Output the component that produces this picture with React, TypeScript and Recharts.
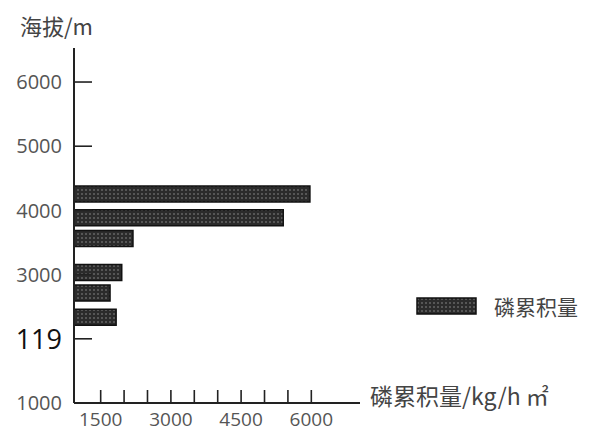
import React from "react";
import { BarChart, Bar, XAxis, YAxis, Legend } from "recharts";

const altitudes = [4250, 3880, 3560, 3030, 2710, 2330];
const phosphorus = [5970, 5400, 2190, 1950, 1700, 1830];
const xTicks = [1500, 2000, 2500, 3000, 3500, 4000, 4500, 5000, 5500, 6000];
const xLabelTicks = [1500, 3000, 4500, 6000];
const yTicks = [1000, 2000, 3000, 4000, 5000, 6000];
const yTickLabels = ["1000", "119", "3000", "4000", "5000", "6000"];
const seriesName = "磷累积量";
const yTitle = "海拔/m";
const xTitle = "磷累积量/kg/h ㎡";

const data = altitudes.map((alt, i) => ({ alt, p: phosphorus[i] }));

const NUM_FONT = '"Open Sans", "Noto Sans CJK SC", sans-serif';
const CJK_FONT = '"Noto Sans CJK SC", "Open Sans", sans-serif';

const XTick = (props: any) => {
  const { x, y, payload } = props;
  const v = payload.value;
  return (
    <g>
      <line x1={x} x2={x} y1={y - 1} y2={y - 13} stroke="#222" strokeWidth={1.6} />
      {xLabelTicks.includes(v) && (
        <text x={x} y={426} textAnchor="middle" fontFamily={NUM_FONT} fontSize={19} fill="#555">
          {String(v)}
        </text>
      )}
    </g>
  );
};

const YTick = (props: any) => {
  const { x, y, payload } = props;
  const idx = yTicks.indexOf(payload.value);
  const label = idx >= 0 ? yTickLabels[idx] : String(payload.value);
  const special = label === "119";
  return (
    <g>
      {payload.value !== yTicks[0] && (
        <line x1={x + 13} x2={x + 30} y1={y} y2={y} stroke="#222" strokeWidth={1.6} />
      )}
      <text
        x={x}
        y={y}
        dy="0.36em"
        textAnchor="end"
        fontFamily={NUM_FONT}
        fontSize={special ? 27 : 20}
        fill={special ? "#111" : "#555"}
      >
        {label}
      </text>
    </g>
  );
};

const LegendContent = (props: any) => {
  const name = props.payload && props.payload[0] ? props.payload[0].value : seriesName;
  return (
    <div style={{ display: "flex", alignItems: "center", height: 19 }}>
      <svg width={62} height={19} style={{ display: "block" }}>
        <defs>
          <pattern id="dotsLegend" width="4" height="4" patternUnits="userSpaceOnUse">
            <rect width="4" height="4" fill="#2b2b2b" />
            <circle cx="2" cy="2" r="0.8" fill="#8c8c8c" />
          </pattern>
        </defs>
        <rect x={1} y={1} width={59} height={16} fill="url(#dotsLegend)" stroke="#111" strokeWidth={1.5} />
      </svg>
      <span style={{ marginLeft: 16, fontFamily: CJK_FONT, fontSize: 21, color: "#444", lineHeight: "19px" }}>
        {name}
      </span>
    </div>
  );
};

export default function App() {
  return (
    <div style={{ width: 590, height: 432, position: "relative", background: "#fff" }}>
      <style>{"body{margin:0;}"}</style>
      <BarChart
        width={590}
        height={432}
        data={data}
        layout="vertical"
        margin={{ top: 48, right: 230, bottom: 0, left: 0 }}
      >
        <defs>
          <pattern id="dots" width="4" height="4" patternUnits="userSpaceOnUse">
            <rect width="4" height="4" fill="#2b2b2b" />
            <circle cx="2" cy="2" r="0.8" fill="#8c8c8c" />
          </pattern>
        </defs>
        <XAxis
          type="number"
          domain={[930, 7040]}
          allowDataOverflow
          ticks={xTicks}
          interval={0}
          height={29}
          tickSize={0}
          tickMargin={0}
          tickLine={false}
          tick={<XTick />}
          axisLine={{ stroke: "#222", strokeWidth: 2 }}
          label={{
            content: (p: any) => {
              const vb = p.viewBox || { x: 74, y: 403, width: 286 };
              return (
                <text x={vb.x + vb.width + 10} y={vb.y + 2} fontFamily={CJK_FONT} fontSize={23} fill="#444">
                  {xTitle}
                </text>
              );
            },
          }}
        />
        <YAxis
          type="number"
          dataKey="alt"
          domain={[1000, 6530]}
          allowDataOverflow
          reversed
          ticks={yTicks}
          interval={0}
          width={74}
          tickSize={0}
          tickMargin={12}
          tickLine={false}
          tick={<YTick />}
          axisLine={{ stroke: "#222", strokeWidth: 2 }}
          label={{
            content: () => (
              <text x={20} y={35} fontFamily={CJK_FONT} fontSize={22} fill="#444">
                {yTitle}
              </text>
            ),
          }}
        />
        <Bar
          dataKey="p"
          name={seriesName}
          barSize={16}
          fill="url(#dots)"
          stroke="#111"
          strokeWidth={1.5}
          isAnimationActive={false}
        />
        <Legend
          layout="horizontal"
          verticalAlign="middle"
          align="center"
          wrapperStyle={{ left: 416, top: 297, width: 180, height: 19 }}
          content={<LegendContent />}
        />
      </BarChart>
    </div>
  );
}
